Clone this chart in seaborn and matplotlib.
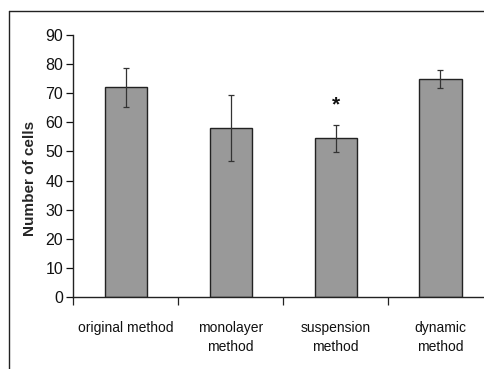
import numpy as np
import pandas as pd
import matplotlib
matplotlib.use("Agg")
import matplotlib.pyplot as plt
import seaborn as sns
from matplotlib.lines import Line2D

# values
methods = ["original method", "monolayer\nmethod", "suspension\nmethod", "dynamic\nmethod"]
cells = [72, 58, 54.5, 75]
errors = [6.7, 11.4, 4.6, 3.1]
yticks = [0, 10, 20, 30, 40, 50, 60, 70, 80, 90]
star_label = "*"
star_index = 2
star_y = 66

sns.set_style("white")
plt.rcParams["font.family"] = ["Liberation Sans", "DejaVu Sans"]

df = pd.DataFrame({"method": methods, "cells": cells})

fig = plt.figure(figsize=(4.84, 3.69), dpi=100)
ax = fig.add_axes([73 / 484, 72 / 369, 420 / 484, 262 / 369])

sns.barplot(data=df, x="method", y="cells", color="#999999", saturation=1,
            width=0.4, edgecolor="#222222", linewidth=1.0, errorbar=None, ax=ax)
ax.errorbar(np.arange(len(methods)), cells, yerr=errors, fmt="none",
            ecolor="#333333", elinewidth=0.9, capsize=2.5, capthick=0.9)
ax.text(star_index, star_y, star_label, ha="center", va="center",
        fontsize=15, fontweight="bold", color="#111111")

ax.set_xlim(-0.5, 3.5)
ax.set_ylim(0, 90)
ax.set_yticks(yticks)
ax.tick_params(axis="y", labelsize=11.5, length=5, width=0.9, direction="out",
               left=True, colors="#111111", pad=2)
ax.set_xticks(np.arange(len(methods)))
ax.set_xticklabels(methods, fontsize=10, linespacing=1.45)
ax.set_xticks([-0.5, 0.5, 1.5, 2.5, 3.5], minor=True)
ax.tick_params(axis="x", which="major", length=0, pad=17, colors="#111111")
ax.tick_params(axis="x", which="minor", length=6, width=0.9, direction="out",
               bottom=True, color="#222222")
ax.set_xlabel("")
ax.set_ylabel("Number of cells", fontsize=11, fontweight="bold")
ax.yaxis.set_label_coords(-36 / 420, 0.454)

for side in ["top", "right"]:
    ax.spines[side].set_visible(False)
for side in ["left", "bottom"]:
    ax.spines[side].set_color("#222222")
    ax.spines[side].set_linewidth(1.0)

# outer frame of the original (cropped) figure
fig.add_artist(Line2D([9 / 484, 9 / 484], [0, 1 - 11 / 369], transform=fig.transFigure,
                      color="#222222", linewidth=1.0))
fig.add_artist(Line2D([9 / 484, 1], [1 - 11 / 369, 1 - 11 / 369], transform=fig.transFigure,
                      color="#222222", linewidth=1.0))

fig.savefig("out.png", dpi=100)
